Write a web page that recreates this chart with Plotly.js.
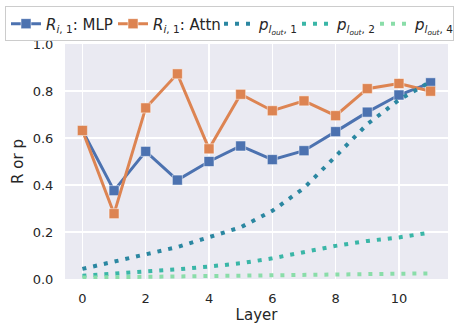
<!DOCTYPE html>
<html><head><meta charset="utf-8">
<script src="https://cdn.plot.ly/plotly-3.0.1.min.js"></script>
<style>html,body{margin:0;padding:0;background:#fff}</style>
</head><body>
<div id="chart" style="width:454px;height:329px"></div>
<script>
const layers = [0,1,2,3,4,5,6,7,8,9,10,11];
const rMLP  = [0.632,0.376,0.543,0.421,0.500,0.566,0.508,0.546,0.627,0.710,0.783,0.835];
const rAttn = [0.632,0.278,0.728,0.873,0.554,0.786,0.716,0.758,0.695,0.810,0.832,0.799];
const p1 = [0.043,0.075,0.105,0.136,0.178,0.220,0.290,0.387,0.522,0.659,0.762,0.840];
const p2 = [0.014,0.022,0.031,0.041,0.053,0.067,0.088,0.114,0.141,0.162,0.177,0.198];
const p4 = [0.006,0.008,0.009,0.010,0.011,0.012,0.014,0.016,0.018,0.020,0.022,0.024];
const xTicks = [0,2,4,6,8,10];
const yTicks = [0,0.2,0.4,0.6,0.8,1.0];

const mk = (c)=>({symbol:'square', size:10, color:c, line:{color:'rgba(255,255,255,0.5)', width:1}});
const traces = [
  {x:layers, y:rMLP, name:'<i>R</i><sub><i>i</i>, 1</sub>: MLP', mode:'lines+markers', legendwidth:62,
   line:{color:'#4C72B0', width:3}, marker:mk('#4C72B0')},
  {x:layers, y:rAttn, name:'<i>R</i><sub><i>i</i>, 1</sub>: Attn', mode:'lines+markers', legendwidth:61,
   line:{color:'#DD8452', width:3}, marker:mk('#DD8452')},
  {x:layers, y:p1, name:'<i>p</i><sub><i>l</i><sub><i>out</i></sub>, 1</sub>', mode:'lines', legendwidth:33,
   line:{color:'#2B87A1', width:4, dash:'4px,7px'}},
  {x:layers, y:p2, name:'<i>p</i><sub><i>l</i><sub><i>out</i></sub>, 2</sub>', mode:'lines', legendwidth:33,
   line:{color:'#3AB6A7', width:4, dash:'4px,7px'}},
  {x:layers, y:p4, name:'<i>p</i><sub><i>l</i><sub><i>out</i></sub>, 4</sub>', mode:'lines', legendwidth:33,
   line:{color:'#8ADDA9', width:4, dash:'4px,7px'}}
];
const layout = {
  width:454, height:329,
  margin:{l:64, r:6, t:41, b:50},
  paper_bgcolor:'#ffffff', plot_bgcolor:'#EAEAF2',
  font:{family:'DejaVu Sans', size:13, color:'#262626'},
  showlegend:true,
  legend:{orientation:'h', x:-0.154, xanchor:'left', y:1.16, yanchor:'top',
    bgcolor:'rgba(255,255,255,0.8)', bordercolor:'#cccccc', borderwidth:1,
    font:{size:15}, itemwidth:30, tracegroupgap:0},
  xaxis:{range:[-0.55,11.55], tickvals:xTicks, ticktext:xTicks.map(String),
    showgrid:true, gridcolor:'#ffffff', gridwidth:1.2, zeroline:false, showline:false,
    ticks:'outside', ticklen:7, tickcolor:'rgba(0,0,0,0)',
    title:{text:'Layer', font:{size:15}, standoff:3}},
  yaxis:{range:[0,1.0], tickvals:yTicks, ticktext:yTicks.map(v=>v.toFixed(1)),
    showgrid:true, gridcolor:'#ffffff', gridwidth:1.2, zeroline:false, showline:false,
    ticks:'outside', ticklen:8, tickcolor:'rgba(0,0,0,0)',
    title:{text:'R or p', font:{size:15}, standoff:5}}
};
Plotly.newPlot('chart', traces, layout, {displayModeBar:false, staticPlot:true});
</script>
</body></html>
